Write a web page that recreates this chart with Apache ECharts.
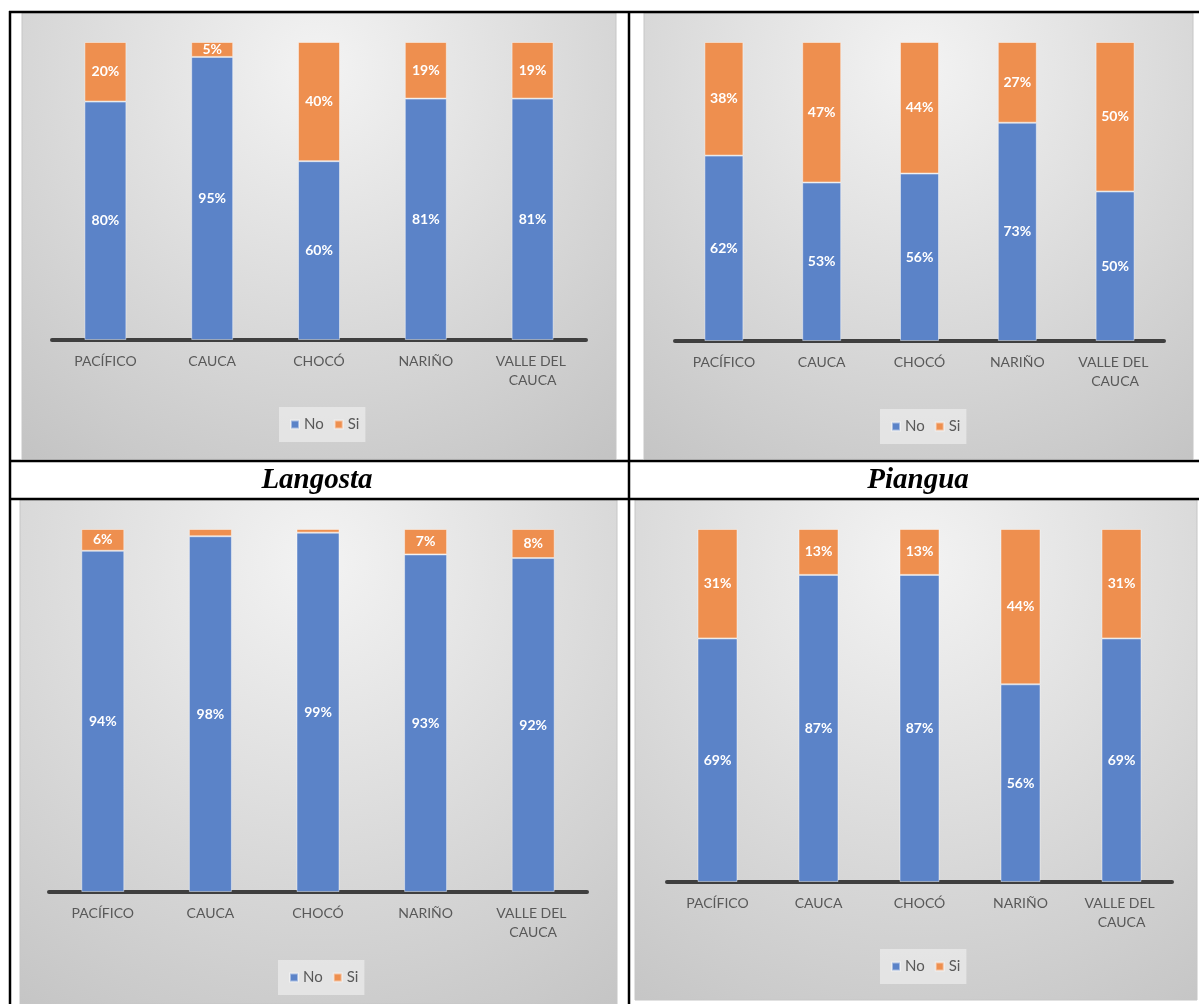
<!DOCTYPE html>
<html>
<head>
<meta charset="utf-8">
<script src="https://cdn.jsdelivr.net/npm/echarts@6/dist/echarts.min.js"></script>
<style>
html,body{margin:0;padding:0;background:#fff;}
#c{width:1199px;height:1004px;}
</style>
</head>
<body>
<div id="c"></div>
<script>
const categories = ['PACÍFICO', 'CAUCA', 'CHOCÓ', 'NARIÑO', 'VALLE DEL CAUCA'];
const seriesNames = ['No', 'Si'];
const panelTitles = ['Langosta', 'Piangua'];
// top-left chart
const noTopLeft = [80, 95, 60, 81, 81];
const siTopLeft = [20, 5, 40, 19, 19];
// top-right chart
const noTopRight = [62, 53, 56, 73, 50];
const siTopRight = [38, 47, 44, 27, 50];
// Langosta
const noLangosta = [94, 98, 99, 93, 92];
const siLangosta = [6, 2, 1, 7, 8];
// Piangua
const noPiangua = [69, 87, 87, 56, 69];
const siPiangua = [31, 13, 13, 44, 31];

const dataSets = [
  [noTopLeft, siTopLeft],
  [noTopRight, siTopRight],
  [noLangosta, siLangosta],
  [noPiangua, siPiangua]
];

const BLUE = '#5b83c8';
const ORANGE = '#ee8f4f';
const FONT = 'Lato, "Open Sans", sans-serif';

const layout = [
  {grid: {left: 52, top: 42, width: 534, height: 298}, bw: 42, legend: {left: 279, top: 407}, panel: [22, 13, 594, 446]},
  {grid: {left: 675, top: 42, width: 489, height: 299}, bw: 39, legend: {left: 880, top: 409}, panel: [644, 13, 549, 446]},
  {grid: {left: 49, top: 529, width: 538, height: 363}, bw: 43, legend: {left: 278, top: 960}, panel: [20, 500, 597, 504]},
  {grid: {left: 667, top: 529, width: 505, height: 353}, bw: 40, legend: {left: 880, top: 949}, panel: [635, 500, 562, 500]}
];

const grids = [], xAxes = [], yAxes = [], series = [], legends = [], graphics = [];

layout.forEach((L, i) => {
  const p = L.panel;
  graphics.push({
    type: 'rect', z: -10,
    shape: {x: p[0], y: p[1], width: p[2], height: p[3]},
    style: {
      fill: new echarts.graphic.RadialGradient(0.5, 0.12, 1.15, [
        {offset: 0, color: '#f3f3f3'},
        {offset: 1, color: '#c1c1c1'}
      ]),
      stroke: '#c6c6c6', lineWidth: 1
    }
  });
  grids.push(Object.assign({containLabel: false}, L.grid));
  xAxes.push({
    type: 'category', gridIndex: i, data: categories,
    axisLine: {lineStyle: {color: '#3f3f3f', width: 4}},
    axisTick: {show: false},
    axisLabel: {
      color: '#595959', fontFamily: FONT, fontSize: 14, margin: 12,
      lineHeight: 19, width: 84, overflow: 'break', interval: 0
    }
  });
  yAxes.push({type: 'value', gridIndex: i, min: 0, max: 100, show: false, splitLine: {show: false}});
  seriesNames.forEach((nm, k) => {
    series.push({
      name: nm, type: 'bar', stack: 'st' + i,
      xAxisIndex: i, yAxisIndex: i,
      barWidth: L.bw,
      data: dataSets[i][k],
      itemStyle: {color: k === 0 ? BLUE : ORANGE, borderColor: 'rgba(255,255,255,0.45)', borderWidth: 1},
      label: {
        show: true, position: 'inside', color: '#fff', fontWeight: 'bold',
        fontFamily: FONT, fontSize: 14,
        formatter: prm => prm.value < 3 ? '' : prm.value + '%'
      }
    });
  });
  legends.push({
    data: seriesNames, left: L.legend.left, top: L.legend.top,
    orient: 'horizontal', icon: 'rect', itemWidth: 8, itemHeight: 8, itemGap: 10,
    padding: [10, 6, 10, 11],
    backgroundColor: 'rgba(235,235,235,0.75)',
    textStyle: {color: '#595959', fontFamily: FONT, fontSize: 15},
    selectedMode: false
  });
});

// table lines
const LINE = '#000';
const lines = [
  [9, 12, 1199, 12],
  [10, 11, 10, 1004],
  [629, 11, 629, 1004],
  [9, 461, 1199, 461],
  [9, 499, 1199, 499]
];
lines.forEach(l => graphics.push({
  type: 'line', z: 5, shape: {x1: l[0], y1: l[1], x2: l[2], y2: l[3]},
  style: {stroke: LINE, lineWidth: 2.5}
}));
// panel titles
[[317, panelTitles[0]], [918, panelTitles[1]]].forEach(t => graphics.push({
  type: 'text', z: 5, x: t[0], y: 481,
  style: {text: t[1], fill: '#000', font: 'italic bold 29px "Liberation Serif", "Times New Roman", serif',
    textAlign: 'center', textVerticalAlign: 'middle'}
}));

const chart = echarts.init(document.getElementById('c'), null, {renderer: 'canvas'});
chart.setOption({
  animation: false,
  backgroundColor: '#fff',
  grid: grids, xAxis: xAxes, yAxis: yAxes, series: series, legend: legends,
  graphic: {elements: graphics}
});
</script>
</body>
</html>
